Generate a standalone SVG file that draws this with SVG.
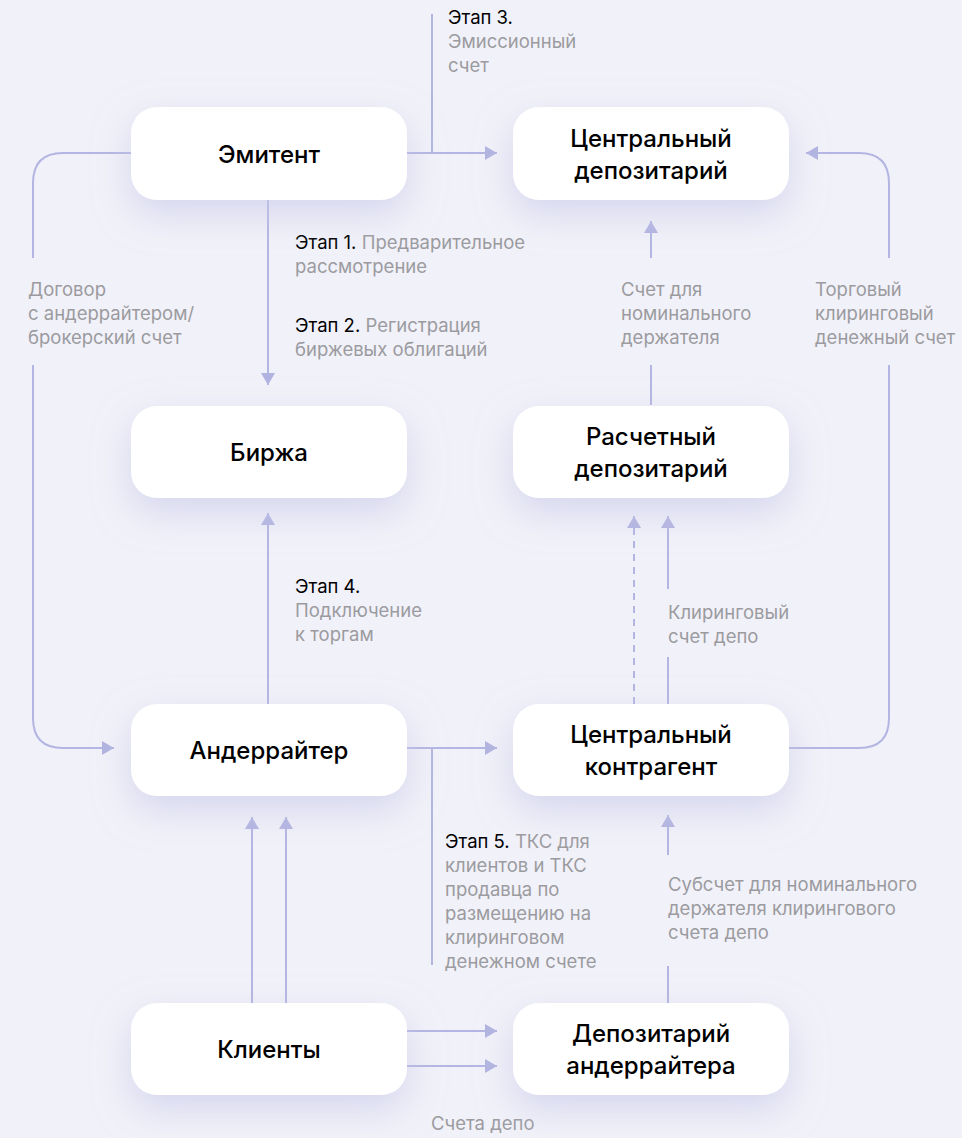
<svg xmlns="http://www.w3.org/2000/svg" width="962" height="1138" viewBox="0 0 962 1138">
<defs>
<filter id="sh" x="-40%" y="-60%" width="180%" height="220%">
<feDropShadow dx="0" dy="14" stdDeviation="18" flood-color="#c9cae8" flood-opacity="0.7"/>
</filter>
<marker id="ah" viewBox="0 0 12 14" refX="12" refY="7" markerWidth="12" markerHeight="14" markerUnits="userSpaceOnUse" orient="auto">
<path d="M0,0 L12,7 L0,14 Z" fill="#b1b3e0"/>
</marker>
<style>
.bg{fill:#f1f1f9}
.node{fill:#ffffff;filter:url(#sh)}
.t{font-family:Inter,"Noto Sans",sans-serif;font-size:24px;fill:#000;text-anchor:middle;font-weight:500}
.l{font-family:Inter,"Noto Sans",sans-serif;font-size:18.5px;fill:#9b9b9f}
.k{fill:#000}
.c{fill:none;stroke:#b3b5e2;stroke-width:2}
.a{marker-end:url(#ah)}
.d{stroke-dasharray:7 6}
</style>
</defs>
<rect class="bg" x="0" y="0" width="962" height="1138"/>
<g id="connectors">
<path class="c a" d="M407,153 H497"/>
<path class="c" d="M432,14 V153"/>
<path class="c" d="M131,153 H63 Q33,153 33,183 V258"/>
<path class="c a" d="M33,365 V718 Q33,748 63,748 H114"/>
<path class="c a" d="M268,200 V385"/>
<path class="c a" d="M889,258 V183 Q889,153 859,153 H806"/>
<path class="c" d="M789,748 H859 Q889,748 889,718 V365"/>
<path class="c" d="M651,405 V365"/>
<path class="c a" d="M651,258 V221"/>
<path class="c d a" d="M634,704 V516"/>
<path class="c" d="M668,704 V657"/>
<path class="c a" d="M668,589 V516"/>
<path class="c a" d="M268,704 V513"/>
<path class="c a" d="M407,748 H497"/>
<path class="c" d="M432,748 V965"/>
<path class="c a" d="M252,1003 V817"/>
<path class="c a" d="M286,1003 V817"/>
<path class="c a" d="M407,1031 H497"/>
<path class="c a" d="M407,1066 H497"/>
<path class="c" d="M668,1003 V966"/>
<path class="c a" d="M668,855 V815"/>
</g>
<g id="labels">
<text class="l" x="448" y="24"><tspan class="k">Этап 3.</tspan><tspan x="448" dy="24">Эмиссионный</tspan><tspan x="448" dy="24">счет</tspan></text>
<text class="l" x="295" y="249"><tspan class="k">Этап 1.</tspan> Предварительное<tspan x="295" dy="24">рассмотрение</tspan></text>
<text class="l" x="295" y="332"><tspan class="k">Этап 2.</tspan> Регистрация<tspan x="295" dy="24">биржевых облигаций</tspan></text>
<text class="l" x="28" y="296">Договор<tspan x="28" dy="24">с андеррайтером/</tspan><tspan x="28" dy="24">брокерский счет</tspan></text>
<text class="l" x="621" y="296">Счет для<tspan x="621" dy="24">номинального</tspan><tspan x="621" dy="24">держателя</tspan></text>
<text class="l" x="815" y="296">Торговый<tspan x="815" dy="24">клиринговый</tspan><tspan x="815" dy="24">денежный счет</tspan></text>
<text class="l" x="295" y="593"><tspan class="k">Этап 4.</tspan><tspan x="295" dy="24">Подключение</tspan><tspan x="295" dy="24">к торгам</tspan></text>
<text class="l" x="668" y="619">Клиринговый<tspan x="668" dy="24">счет депо</tspan></text>
<text class="l" x="445" y="848"><tspan class="k">Этап 5.</tspan> ТКС для<tspan x="445" dy="24">клиентов и ТКС</tspan><tspan x="445" dy="24">продавца по</tspan><tspan x="445" dy="24">размещению на</tspan><tspan x="445" dy="24">клиринговом</tspan><tspan x="445" dy="24">денежном счете</tspan></text>
<text class="l" x="668" y="891">Субсчет для номинального<tspan x="668" dy="24">держателя клирингового</tspan><tspan x="668" dy="24">счета депо</tspan></text>
<text class="l" x="431" y="1130">Счета депо</text>
</g>
<g id="emitent"><rect class="node" x="131" y="107" width="276" height="93" rx="26"/><text class="t" x="269" y="163">Эмитент</text></g>
<g id="central-depository"><rect class="node" x="513" y="107" width="276" height="93" rx="26"/><text class="t" x="651" y="147">Центральный<tspan x="651" dy="32">депозитарий</tspan></text></g>
<g id="exchange"><rect class="node" x="131" y="406" width="276" height="92" rx="26"/><text class="t" x="269" y="461">Биржа</text></g>
<g id="settlement-depository"><rect class="node" x="513" y="406" width="276" height="92" rx="26"/><text class="t" x="651" y="445">Расчетный<tspan x="651" dy="32">депозитарий</tspan></text></g>
<g id="underwriter"><rect class="node" x="131" y="704" width="276" height="92" rx="26"/><text class="t" x="269" y="759">Андеррайтер</text></g>
<g id="ccp"><rect class="node" x="513" y="704" width="276" height="92" rx="26"/><text class="t" x="651" y="743">Центральный<tspan x="651" dy="32">контрагент</tspan></text></g>
<g id="clients"><rect class="node" x="131" y="1003" width="276" height="92" rx="26"/><text class="t" x="269" y="1058">Клиенты</text></g>
<g id="underwriter-depository"><rect class="node" x="513" y="1003" width="276" height="92" rx="26"/><text class="t" x="651" y="1042">Депозитарий<tspan x="651" dy="32">андеррайтера</tspan></text></g>
</svg>
